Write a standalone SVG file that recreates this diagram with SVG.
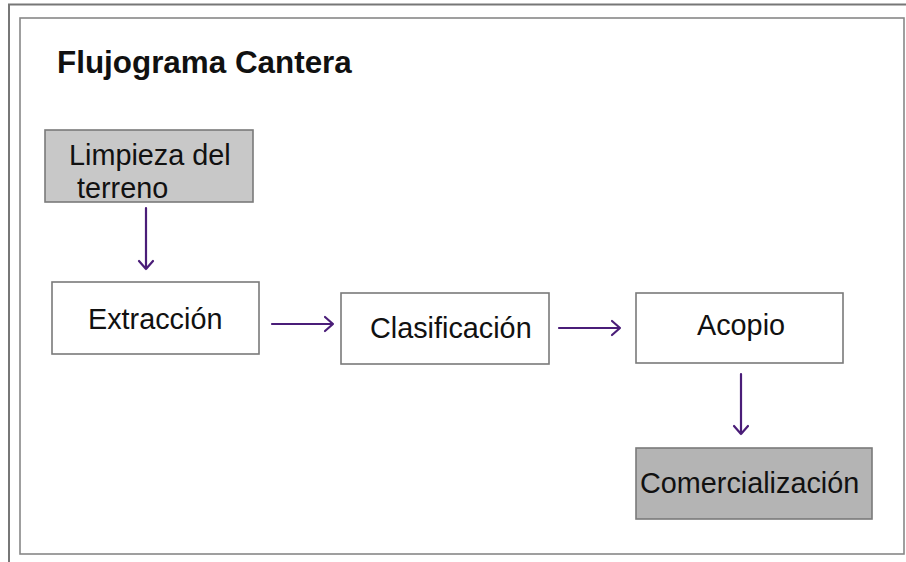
<svg xmlns="http://www.w3.org/2000/svg" width="906" height="562" viewBox="0 0 906 562">
<style>
.box{stroke:#7a7a7a;stroke-width:1.6}
.t{font-family:"Liberation Sans",Arial,sans-serif;font-size:28.8px;fill:#111}
.c{stroke:#4a1d78;stroke-width:2.2;fill:none;stroke-linecap:round;stroke-linejoin:round}
</style>
<rect width="906" height="562" fill="#fff"/>
<g id="frame">
<path d="M8 4.5H906M9 4V562" stroke="#777" stroke-width="2" fill="none"/>
<rect x="20" y="18" width="884" height="536" fill="#fff" stroke="#888" stroke-width="1.6"/>
</g>
<g id="title"><text x="57" y="73" style="font-family:'Liberation Sans',Arial,sans-serif;font-size:31.4px;font-weight:bold;fill:#111">Flujograma Cantera</text></g>
<g id="limpieza">
<rect class="box" x="45" y="130" width="208" height="72" fill="#c8c8c8"/>
<text class="t" x="69" y="165">Limpieza del</text>
<text class="t" x="77" y="197.5">terreno</text>
</g>
<g id="extraccion">
<rect class="box" x="52" y="282" width="207" height="72" fill="#fff"/>
<text class="t" x="88" y="329">Extracción</text>
</g>
<g id="clasificacion">
<rect class="box" x="341" y="293" width="208" height="71" fill="#fff"/>
<text class="t" x="370" y="338">Clasificación</text>
</g>
<g id="acopio">
<rect class="box" x="636" y="293" width="207" height="70" fill="#fff"/>
<text class="t" x="697" y="335">Acopio</text>
</g>
<g id="comercializacion">
<rect class="box" x="636" y="448" width="236" height="71" fill="#b4b4b4"/>
<text class="t" x="640" y="493">Comercialización</text>
</g>
<g id="connectors">
<path class="c" d="M146 208V269M139 261L146 269L153 261"/>
<path class="c" d="M272 324H333M325 317L333 324L325 331"/>
<path class="c" d="M559 328H620M612 321L620 328L612 335"/>
<path class="c" d="M741 374V434M734 426L741 434L748 426"/>
</g>
</svg>
